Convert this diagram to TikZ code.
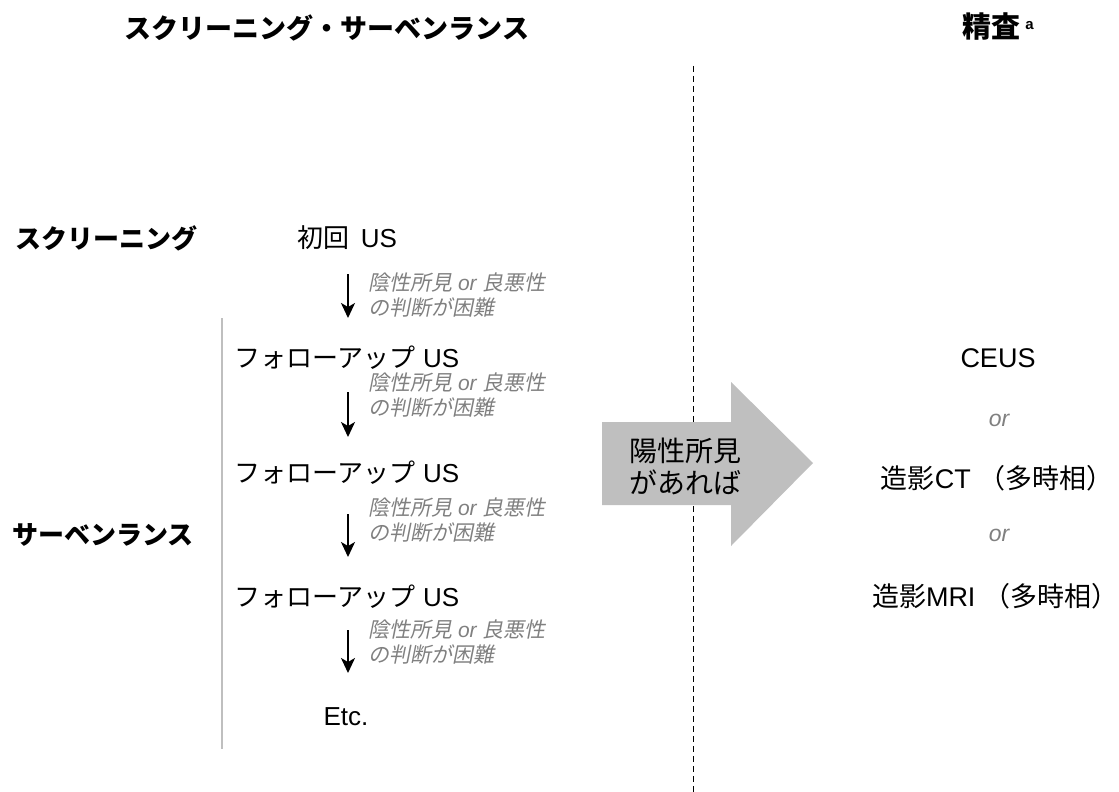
\documentclass[tikz,border=0pt]{standalone}
\usepackage{fontspec}
\setmainfont{Liberation Sans}
\newfontfamily\jp{Noto Sans CJK JP}
\newfontfamily\jpit[FakeSlant=0.2]{Noto Sans CJK JP}
\usetikzlibrary{arrows.meta}
\definecolor{lblgray}{RGB}{128,128,128}
\definecolor{arrfill}{RGB}{191,191,191}
\tikzset{
  head/.style={font=\fontsize{27}{30}\selectfont\jp\bfseries, inner sep=0pt},
  side/.style={font=\fontsize{26}{30}\selectfont\jp\bfseries, inner sep=0pt},
  usnode/.style={font=\fontsize{26}{30}\selectfont, inner sep=0pt},
  cond/.style={font=\fontsize{21}{25}\selectfont\itshape, text=lblgray, align=left, anchor=west, inner sep=0pt},
  flow/.style={line width=2pt, -{Stealth[length=15pt,width=14pt,inset=4pt]}},
  ornode/.style={font=\fontsize{23}{26}\selectfont\itshape, text=lblgray, inner sep=0pt},
  exam/.style={font=\fontsize{27}{32}\selectfont, inner sep=0pt},
}
\begin{document}
\begin{tikzpicture}[x=1pt,y=-1pt]
\useasboundingbox (0,0) rectangle (1119,792);
% headers
\node[head] (h1) at (327,28) {スクリーニング・サーベンランス};
\node[head, font=\fontsize{29}{30}\selectfont\jp\bfseries] (h2) at (998,27) {精査\,\raisebox{0.55ex}{\fontsize{15}{15}\selectfont\rmfamily\bfseries a}};
% divider
\coordinate (dtop) at (693,66);
\coordinate (dbot) at (693,792);
\draw[line width=0.9pt, dash pattern=on 6pt off 4pt] (dtop) -- (dbot);
% side labels
\node[side] (s1) at (106,238) {スクリーニング};
\node[side] (s2) at (103,535) {サーベンランス};
% gray bar
\coordinate (gtop) at (222,318);
\coordinate (gbot) at (222,749);
\draw[color=black!25, line width=1.3pt] (gtop) -- (gbot);
% flow nodes
\node[usnode] (n0) at (347,238) {{\jp 初回}\hspace{0.45em}US};
\node[usnode] (n1) at (347,358) {{\jp フォローアップ} US};
\node[usnode] (n2) at (347,473) {{\jp フォローアップ} US};
\node[usnode] (n3) at (347,597) {{\jp フォローアップ} US};
\node[usnode] (n4) at (346,717) {Etc.};
% arrows
\draw[flow] (348,274) -- (348,318);
\draw[flow] (348,392) -- (348,437);
\draw[flow] (348,514) -- (348,557);
\draw[flow] (348,630) -- (348,673);
% conditions
\node[cond] (c0) at (368,295) {{\jpit 陰性所見} or {\jpit 良悪性}\\{\jpit の判断が困難}};
\node[cond] (c1) at (368,395) {{\jpit 陰性所見} or {\jpit 良悪性}\\{\jpit の判断が困難}};
\node[cond] (c2) at (368,520) {{\jpit 陰性所見} or {\jpit 良悪性}\\{\jpit の判断が困難}};
\node[cond] (c3) at (368,642) {{\jpit 陰性所見} or {\jpit 良悪性}\\{\jpit の判断が困難}};
% big arrow
\fill[arrfill] (602,422) -- (731,422) -- (731,382) -- (813,463) -- (731,546) -- (731,505) -- (602,505) -- cycle;
\node[font=\fontsize{28}{32}\selectfont\jp, align=center, inner sep=0pt] (pos) at (685,466) {陽性所見\\があれば};
% exams
\node[exam] (e1) at (998,358) {CEUS};
\node[ornode] (o1) at (999,420) {or};
\node[exam] (e2) at (997,478) {{\jp 造影}CT {\jp （多時相）}};
\node[ornode] (o2) at (999,535) {or};
\node[exam] (e3) at (995,596) {{\jp 造影}MRI {\jp （多時相）}};
\end{tikzpicture}
\end{document}
